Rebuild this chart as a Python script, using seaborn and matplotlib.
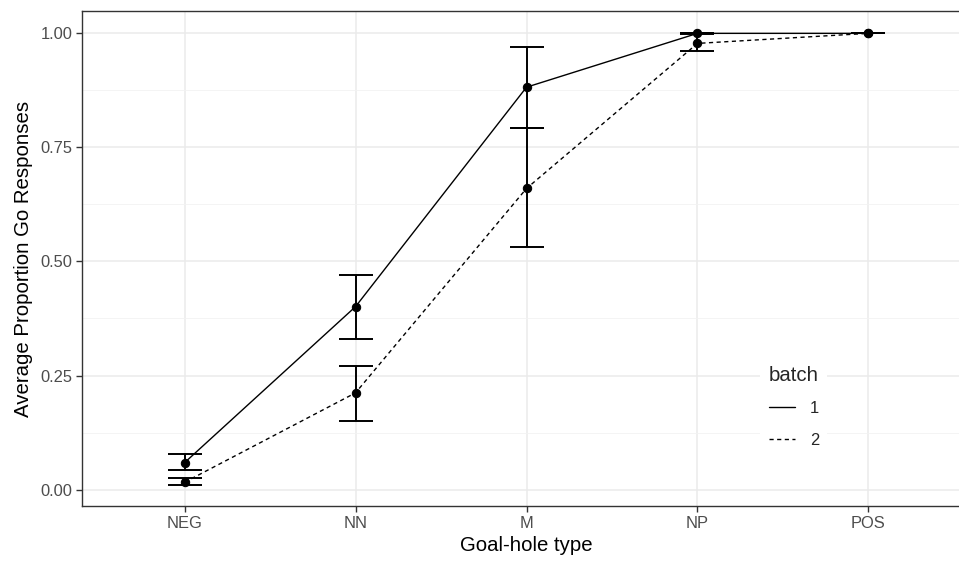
import numpy as np
import pandas as pd
import matplotlib
matplotlib.use("Agg")
import matplotlib.pyplot as plt
from matplotlib.lines import Line2D
import seaborn as sns

# summary values
hole_types = ["NEG", "NN", "M", "NP", "POS"]
batches = ["1", "2"]
mean_b1 = [0.059, 0.401, 0.882, 1.000, 1.000]
low_b1 = [0.042, 0.331, 0.792, 1.000, 1.000]
high_b1 = [0.079, 0.471, 0.969, 1.000, 1.000]
mean_b2 = [0.016, 0.212, 0.660, 0.978, 1.000]
low_b2 = [0.011, 0.151, 0.531, 0.961, 1.000]
high_b2 = [0.025, 0.270, 0.792, 0.998, 1.000]

df = pd.DataFrame({
    "type": hole_types * 2,
    "batch": ["1"] * 5 + ["2"] * 5,
    "prop": mean_b1 + mean_b2,
    "low": low_b1 + low_b2,
    "high": high_b1 + high_b2,
})

sns.set_theme(style="white")
plt.rcParams["font.family"] = ["Liberation Sans", "DejaVu Sans"]

fig = plt.figure(figsize=(9.59, 5.62), dpi=100)
# the reference is cropped on the right, so the panel runs past the edge
ax = fig.add_axes([82 / 959, 1 - 506 / 562, 889 / 959, 495 / 562])

dotted = (0, (3, 2.5))
styles = {"1": "-", "2": dotted}

sns.pointplot(data=df, x="type", y="prop", hue="batch", order=hole_types,
              hue_order=batches, palette=["black", "black"], markers="o",
              linestyles=["-", dotted], errorbar=None, dodge=False,
              markersize=6, linewidth=1.0, legend=False, ax=ax)

for b in batches:
    sub = df[df["batch"] == b].set_index("type").loc[hole_types]
    xs = np.arange(len(hole_types))
    ax.errorbar(xs, sub["prop"], yerr=[sub["prop"] - sub["low"], sub["high"] - sub["prop"]],
                fmt="none", ecolor="black", elinewidth=1.4, capsize=12.5, capthick=1.4, zorder=3)

ax.set_xlim(-0.6, 4.6)
ax.set_ylim(-0.036, 1.049)
ax.set_yticks([0, 0.25, 0.5, 0.75, 1.0])
ax.set_yticklabels(["0.00", "0.25", "0.50", "0.75", "1.00"])
ax.set_yticks([0.125, 0.375, 0.625, 0.875], minor=True)

ax.set_axisbelow(True)
ax.grid(True, which="major", color="#EBEBEB", linewidth=1.1)
ax.grid(True, which="minor", axis="y", color="#F2F2F2", linewidth=0.6)
for s in ax.spines.values():
    s.set_color("#333333")
    s.set_linewidth(1.0)

ax.tick_params(axis="both", which="major", length=4, width=1, color="#333333",
               labelcolor="#4D4D4D", labelsize=11.9, pad=3, left=True, bottom=True)
ax.tick_params(axis="y", which="minor", length=0)

ax.set_xlabel("Goal-hole type", fontsize=14.7, color="black", labelpad=4)
ax.set_ylabel("Average Proportion Go Responses", fontsize=14.7, color="black", labelpad=5)

handles = [Line2D([], [], color="black", linestyle=styles[b], linewidth=1.0) for b in batches]
leg = ax.legend(handles, batches, title="batch", loc="upper left",
                bbox_to_anchor=(752 / 959, 1 - 349 / 562), bbox_transform=fig.transFigure,
                frameon=True, fontsize=11.9, title_fontsize=14.7, handlelength=1.6,
                labelspacing=1.0, handletextpad=0.9, borderpad=0.5, alignment="left")
leg.get_frame().set_facecolor("white")
leg.get_frame().set_edgecolor("none")
leg.get_frame().set_alpha(1)

fig.savefig("out.png", dpi=100)
